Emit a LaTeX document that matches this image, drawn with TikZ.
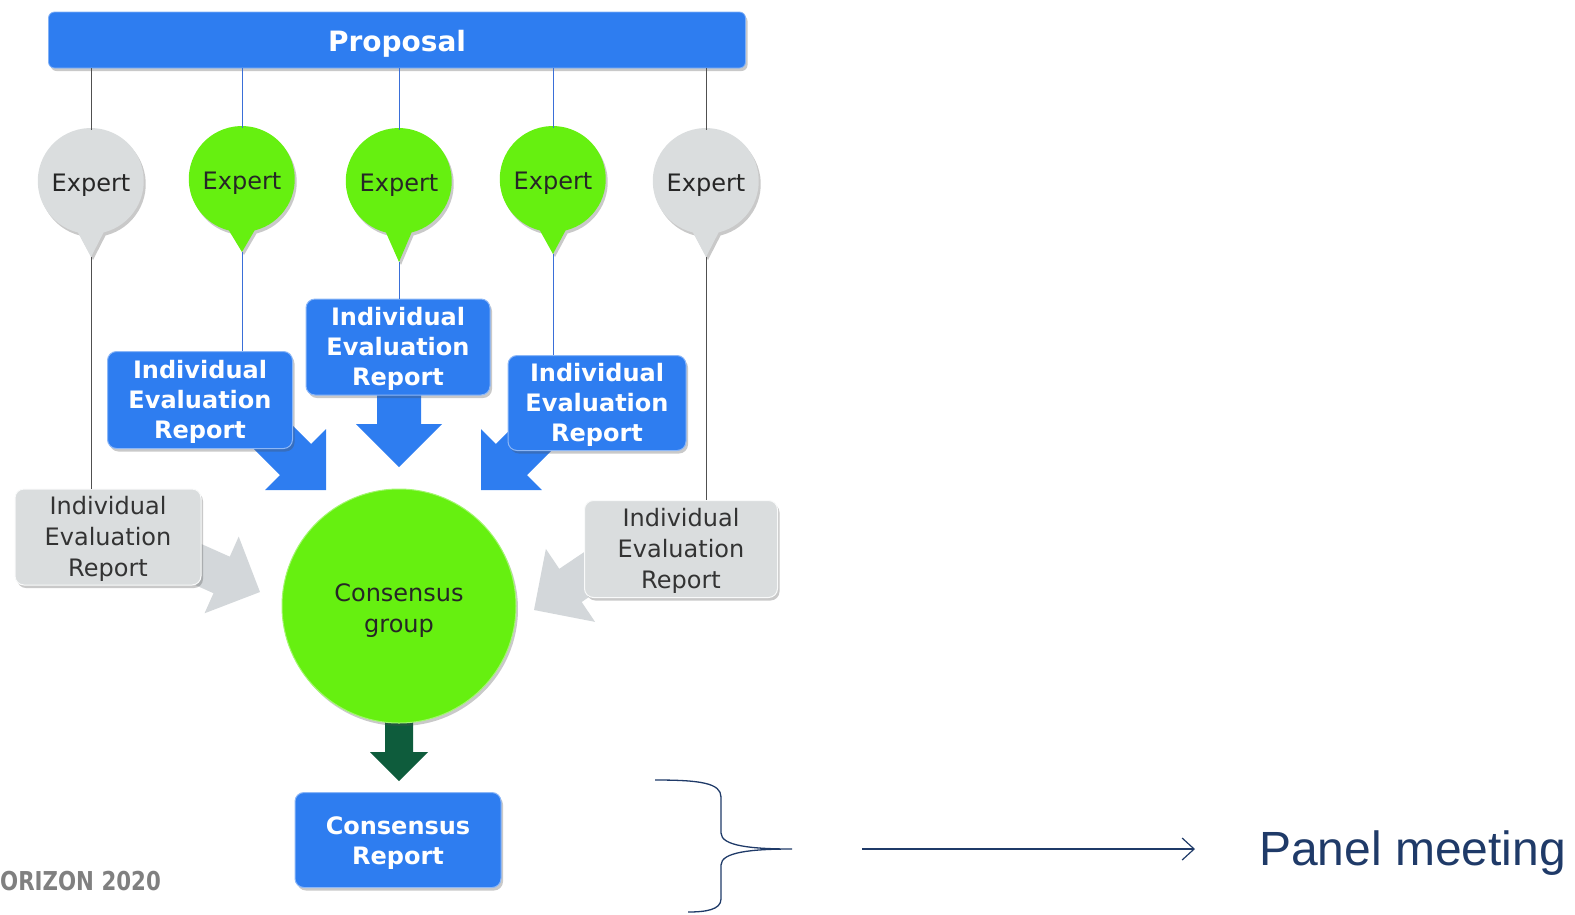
\documentclass[tikz,border=0pt]{standalone}
\usepackage{fontspec}
\setmainfont{DejaVu Sans}
\newfontfamily\pmfont{Liberation Sans}
\newfontfamily\hzfont{DejaVu Sans}[FakeStretch=0.82]
\usetikzlibrary{shadows,arrows.meta,calc}
\definecolor{abl}{HTML}{2E7DF0}
\definecolor{agr}{HTML}{66F010}
\definecolor{agy}{HTML}{DADDDE}
\definecolor{agya}{HTML}{D3D7DA}
\definecolor{dgr}{HTML}{0E5C3C}
\definecolor{navy}{HTML}{1F3A68}
\definecolor{lgy}{HTML}{505050}
\definecolor{lbl}{HTML}{3A6FD8}
\newcommand\upad[1]{\rule{0pt}{#1}}
\begin{document}
\begin{tikzpicture}[x=1pt,y=-1pt,
 shad/.style={drop shadow={shadow xshift=2pt,shadow yshift=-3pt,opacity=0.3,fill=black!70}},
 bluebox/.style={shad, rectangle, rounded corners=9pt, fill=abl, draw=abl!55!white, line width=1pt, text=white, font=\fontsize{24}{30}\selectfont\bfseries, align=center, inner sep=0pt},
 graybox/.style={shad, rectangle, rounded corners=9pt, fill=agy, draw=white!85!agy, line width=1pt, text=black!80, font=\fontsize{24}{31}\selectfont, align=center, inner sep=0pt},
 expert/.style={circle, minimum size=104pt, inner sep=0pt, text height=24pt, text depth=5pt, text=black!85, font=\fontsize{24}{28}\selectfont},
 gline/.style={lgy, line width=0.9pt},
 bline/.style={lbl, line width=0.9pt},
 pics/barrow/.style n args={3}{code={\fill[pic actions] (0,0) -- (-#1,-#1) -- (-#1,-#2) -- (-#3,-#2) -- (-#3,#2) -- (-#1,#2) -- (-#1,#1) -- cycle;}}
]
\useasboundingbox (0,0) rectangle (1575,914);

% Proposal bar
\node[shad, rectangle, rounded corners=6pt, fill=abl, draw=abl!60!white, line width=0.8pt, minimum width=697pt, minimum height=56pt, inner sep=0pt, text height=29pt, text depth=6.5pt, text=white, font=\fontsize{28}{32}\selectfont\bfseries] (prop) at (397,40) {Proposal};

% balloon centres and tips
\coordinate (c1) at (91,182);  \coordinate (t1) at (91,257);
\coordinate (c2) at (242,180); \coordinate (t2) at (242,252);
\coordinate (c3) at (399,182); \coordinate (t3) at (399,262);
\coordinate (c4) at (553,180); \coordinate (t4) at (553,254);
\coordinate (c5) at (706,182); \coordinate (t5) at (706,257);

% block arrows (behind boxes)
\pic[fill=abl] at (399,467) [rotate=-90] {barrow={43}{22}{85}};
\pic[fill=abl] at (326,490) [rotate=-45] {barrow={43}{22}{110}};
\pic[fill=abl] at (481,490) [rotate=-135] {barrow={43}{22}{110}};
\pic[fill=agya] at (260,592) [rotate=-24] {barrow={42}{20}{85}};
\pic[fill=agya] at (534,610) [rotate=-146] {barrow={44}{20}{90}};
\pic[fill=dgr] at (399,781) [rotate=-90] {barrow={29}{14}{62}};

% balloons
\foreach \i/\col in {1/agy,2/agr,3/agr,4/agr,5/agy}{
  \fill[\col, shad] (t\i) -- ($(c\i)+(76:52)$) arc[start angle=76, end angle=-256, radius=53] -- cycle;
}
\node[expert] (e1) at (c1) {Expert};
\node[expert] (e2) at (c2) {Expert};
\node[expert] (e3) at (c3) {Expert};
\node[expert] (e4) at (c4) {Expert};
\node[expert] (e5) at (c5) {Expert};

% report boxes
\node[bluebox, minimum width=184pt, minimum height=96pt] (b3) at (398,347) {\upad{22pt}Individual\\Evaluation\\Report};
\node[bluebox, minimum width=185pt, minimum height=97pt] (b2) at (200,400) {\upad{22pt}Individual\\Evaluation\\Report};
\node[bluebox, minimum width=178pt, minimum height=95pt] (b4) at (597,403) {\upad{22pt}Individual\\Evaluation\\Report};
\node[graybox, minimum width=186pt, minimum height=96pt] (b1) at (108,537) {\upad{21pt}Individual\\Evaluation\\Report};
\node[graybox, minimum width=193pt, minimum height=97pt] (b5) at (681,549) {\upad{21pt}Individual\\Evaluation\\Report};

% connectors
\draw[gline] (prop.south -| e1) -- (e1.north);
\draw[bline] (prop.south -| e2) -- (e2.north);
\draw[bline] (prop.south -| e3) -- (e3.north);
\draw[bline] (prop.south -| e4) -- (e4.north);
\draw[gline] (prop.south -| e5) -- (e5.north);
\draw[gline] (t1) -- (b1.north -| t1);
\draw[bline] (t2) -- (b2.north -| t2);
\draw[bline] (t3) -- (b3.north -| t3);
\draw[bline] (t4) -- (b4.north -| t4);
\draw[gline] (t5) -- (b5.north -| t5);

% consensus group
\node[shad, circle, minimum size=234pt, inner sep=0pt, fill=agr, draw=agr!60!white, line width=1pt, text=black!85, align=center, font=\fontsize{24}{31}\selectfont] (cg) at (399,606) {\upad{26pt}Consensus\\group};

% consensus report
\node[bluebox, minimum width=206pt, minimum height=95pt] (cr) at (398,840) {\upad{24.5pt}Consensus\\Report};

% Horizon text
\node[anchor=base west, inner sep=0pt, text=black!50, font=\fontsize{26}{28}\selectfont\hzfont\bfseries] (hz) at (0,890) {ORIZON 2020};

% brace
\coordinate (bt) at (655,780);
\coordinate (bm) at (792,849);
\coordinate (bb) at (688,912);
\draw[navy, line width=1.3pt] (bt) .. controls (700,780) and (721,783) .. (721,797) -- (721,833) .. controls (721,846) and (752,849) .. (bm) .. controls (752,849) and (721,852) .. (721,865) -- (721,899) .. controls (721,910) and (705,912) .. (bb);

% panel meeting
\node[anchor=base west, inner sep=0pt, text=navy, font=\fontsize{48}{56}\selectfont\pmfont] (pm) at (1259,865) {Panel meeting};
\coordinate (a1) at (862,849);
\coordinate (a2) at (1195,849);
\draw[navy, line width=1.2pt, -{Straight Barb[length=12pt,width=22pt]}] (a1) -- (a2);
\end{tikzpicture}
\end{document}
